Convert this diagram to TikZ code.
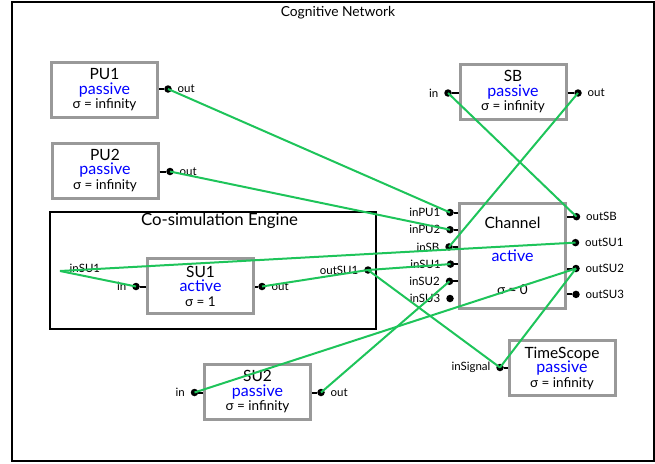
\documentclass[tikz,border=0pt]{standalone}
\usepackage{fontspec}
\setmainfont{Lato}
\usetikzlibrary{positioning}
\definecolor{linkgreen}{HTML}{1EC45A}
\definecolor{boxgray}{HTML}{999999}
\definecolor{stateblue}{HTML}{0000FF}
\newcommand{\namefont}{\fontsize{15.5}{14.5}\selectfont}
\newcommand{\statefont}{\fontsize{16}{14.5}\selectfont\color{stateblue}}
\newcommand{\sigmafont}{\fontsize{13.5}{14.5}\selectfont}
\newcommand{\modeltext}[3]{{\namefont #1}\\{\statefont #2}\\{\sigmafont σ = #3}}

\begin{document}
\begin{tikzpicture}[x=1pt,y=-1pt]
  % Styles
  \tikzset{
    atomic/.style={draw=boxgray, line width=3pt, fill=white, minimum width=106pt,
                   minimum height=55pt, align=center, inner sep=0pt,
                   font=\fontsize{14}{14.5}\selectfont},
    coupled/.style={draw=black, line width=2pt, minimum width=326pt, minimum height=117pt},
    port/.style={circle, fill=black, inner sep=0pt, minimum size=7.5pt},
    stub/.style={line width=2pt},
    link/.style={draw=linkgreen, line width=2pt},
    plabel/.style={font=\fontsize{11.5}{13}\selectfont, inner sep=0.5pt},
    rlabel/.style={plabel, xshift=5pt},
    llabel/.style={plabel, xshift=-5pt}
  }
  \useasboundingbox (0,0) rectangle (655,463);

  % Frame and title
  \draw[line width=1.2pt] (12,2) rectangle (654,461);
  \node[font=\fontsize{13.8}{15}\selectfont] (title) at (338,13) {Cognitive Network};

  % Coupled model
  \node[coupled] (engine) at (213,270.5) {};
  \node[font=\fontsize{16.8}{18}\selectfont] (enginetitle) at (219.5,221) {Co-simulation Engine};

  % Atomic models
  \node[atomic] (pu1) at (104.5,90) {\modeltext{PU1}{passive}{infinity}};
  \node[atomic] (pu2) at (105,170.5) {\modeltext{PU2}{passive}{infinity}};
  \node[atomic] (sb) at (513,92) {\modeltext{SB}{passive}{infinity}};
  \node[atomic] (su1) at (200.5,286) {\modeltext{SU1}{active}{1}};
  \node[atomic] (su2) at (257.5,392) {\modeltext{SU2}{passive}{infinity}};
  \node[atomic] (timescope) at (562,368) {\modeltext{TimeScope}{passive}{infinity}};
  \node[atomic, minimum height=105pt, font=\fontsize{14}{33}\selectfont] (chan) at (512.5,255.5)
    {\modeltext{Channel}{active}{0}};

  % Ports
  \node[port, label={[rlabel]right:out}] (pu1out) at (168,89) {};
  \node[port, label={[rlabel]right:out}] (pu2out) at (170,171.5) {};
  \node[port, label={[llabel]left:in}] (sbin) at (448,93) {};
  \node[port, label={[rlabel]right:out}] (sbout) at (578,93) {};
  \node[port, label={[llabel]left:in}] (su1in) at (136,286.5) {};
  \node[port, label={[rlabel]right:out}] (su1out) at (262,286.5) {};
  \node[port, label={[llabel]left:in}] (su2in) at (194.5,392.5) {};
  \node[port, label={[rlabel]right:out}] (su2out) at (321,392.5) {};
  \node[port, label={[llabel]left:inSignal}] (tsin) at (500,367.5) {};
  \node[port, label={[llabel]left:outSU1}] (eoutsu1) at (368,270) {};
  \coordinate (einsu1) at (60,271);
  \node[plabel, right=9pt of einsu1, yshift=3pt] (einsu1label) {inSU1};

  % Channel ports
  \node[port, label={[llabel]left:inPU1}] (cinpu1) at (450,212.5) {};
  \node[port, label={[llabel]left:inPU2}] (cinpu2) at (450,229.7) {};
  \node[port, label={[llabel]left:inSB}] (cinsb) at (449,246.9) {};
  \node[port, label={[llabel]left:inSU1}] (cinsu1) at (450.5,264.1) {};
  \node[port, label={[llabel]left:inSU2}] (cinsu2) at (449.5,281.3) {};
  \node[port, label={[llabel]left:inSU3}] (cinsu3) at (450,298.5) {};
  \node[port, label={[rlabel]right:outSB}] (coutsb) at (576.5,216.7) {};
  \node[port, label={[rlabel]right:outSU1}] (coutsu1) at (575.5,242.6) {};
  \node[port, label={[rlabel]right:outSU2}] (coutsu2) at (576,268.5) {};
  \node[port, label={[rlabel]right:outSU3}] (coutsu3) at (576,294.4) {};

  % Stubs
  \draw[stub] (pu1.east |- pu1out) -- (pu1out);
  \draw[stub] (pu2.east |- pu2out) -- (pu2out);
  \draw[stub] (sb.west |- sbin) -- (sbin);
  \draw[stub] (sb.east |- sbout) -- (sbout);
  \draw[stub] (su1.west |- su1in) -- (su1in);
  \draw[stub] (su1.east |- su1out) -- (su1out);
  \draw[stub] (su2.west |- su2in) -- (su2in);
  \draw[stub] (su2.east |- su2out) -- (su2out);
  \draw[stub] (timescope.west |- tsin) -- (tsin);
  \draw[stub] (chan.west |- cinpu1) -- (cinpu1);
  \draw[stub] (chan.west |- cinpu2) -- (cinpu2);
  \draw[stub] (chan.west |- cinsb) -- (cinsb);
  \draw[stub] (chan.west |- cinsu1) -- (cinsu1);
  \draw[stub] (chan.west |- cinsu2) -- (cinsu2);
  \draw[stub] (chan.east |- coutsb) -- (coutsb);
  \draw[stub] (chan.east |- coutsu2) -- (coutsu2);
  \draw[stub] (chan.east |- coutsu3) -- (coutsu3);

  % Couplings
  \draw[link] (pu1out.center) -- (cinpu1.center);
  \draw[link] (pu2out.center) -- (cinpu2.center);
  \draw[link] (sbout.center) -- (cinsb.center);
  \draw[link] (sbin.center) -- (coutsb.center);
  \draw[link] (einsu1) -- (coutsu1.center);
  \draw[link] (einsu1) -- (su1in.center);
  \draw[link] (su1out.center) -- (eoutsu1.center);
  \draw[link] (eoutsu1.center) -- (cinsu1.center);
  \draw[link] (eoutsu1.center) -- (tsin.center);
  \draw[link] (su2out.center) -- (cinsu2.center);
  \draw[link] (su2in.center) -- (coutsu2.center);
  \draw[link] (tsin.center) -- (coutsu2.center);
\end{tikzpicture}
\end{document}
